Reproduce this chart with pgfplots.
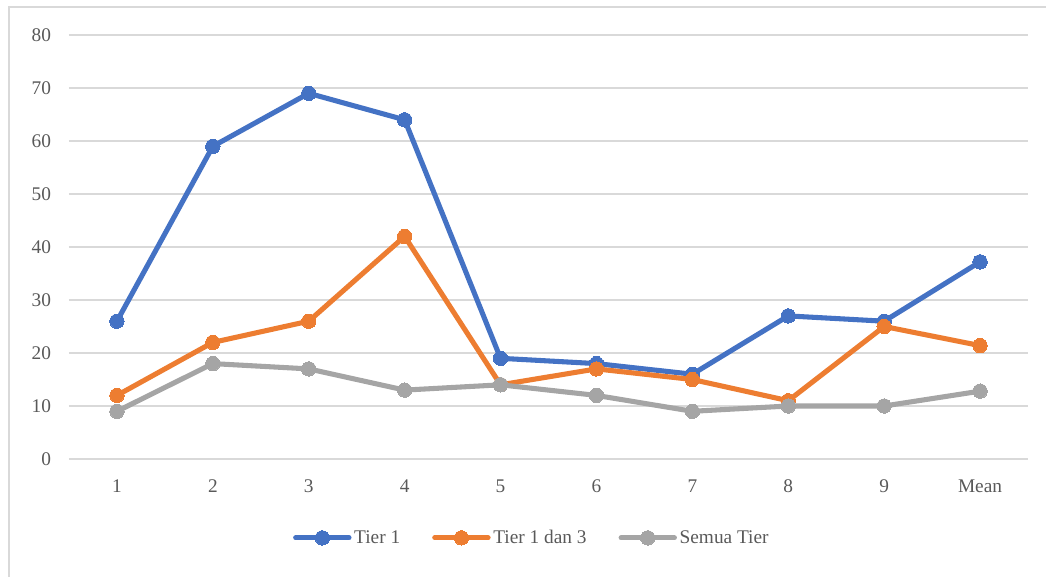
\documentclass[border=0pt]{standalone}
\usepackage{pgfplots}
\pgfplotsset{compat=1.18}
\usepackage{fontspec}
\setmainfont{Liberation Serif}
\definecolor{cblue}{HTML}{4472C4}
\definecolor{corange}{HTML}{ED7D31}
\definecolor{cgray}{HTML}{A5A5A5}
\definecolor{cgrid}{HTML}{D9D9D9}
\definecolor{ctext}{HTML}{595959}
\begin{document}
\begin{tikzpicture}
\begin{axis}[
  name=ax,
  scale only axis,
  width=719.25pt, height=318pt,
  xmin=-0.5, xmax=9.5, ymin=0, ymax=80,
  xtick={0,...,9},
  xticklabels={1,2,3,4,5,6,7,8,9,Mean},
  ytick={0,10,...,80},
  ymajorgrids,
  grid style={cgrid, line width=1.2pt},
  axis line style={draw=none},
  major tick length=0pt,
  tick label style={font=\fontsize{14.5}{16}\selectfont, text=ctext},
  /pgf/number format/assume math mode=true,
  yticklabel style={anchor=east, xshift=-10pt},
  xticklabel style={yshift=-12pt},
  clip=false,
  legend style={at={(0.483,-0.186)}, anchor=center, draw=none, fill=none,
    legend columns=-1, font=\fontsize{14.5}{16}\selectfont, text=ctext,
    /tikz/every even column/.append style={column sep=22pt},
    inner sep=0pt},
  legend image code/.code={
    \draw[#1, line cap=round, mark=none] (0pt,0pt) -- (40pt,0pt);
    \draw[#1, only marks] plot coordinates {(20pt,0pt)};
  },
  every axis plot/.append style={line width=3.8pt, mark=*, line join=round},
]
\addplot[cblue, mark options={fill=cblue, draw=cblue, line width=0pt, mark size=5.4pt}] coordinates {
(0,26) (1,59) (2,69) (3,64) (4,19) (5,18) (6,16) (7,27) (8,26) (9,37.2)};
\addlegendentry{Tier 1}
\addplot[corange, mark options={fill=corange, draw=corange, line width=0pt, mark size=5.4pt}] coordinates {
(0,12) (1,22) (2,26) (3,42) (4,14) (5,17) (6,15) (7,11) (8,25) (9,21.4)};
\addlegendentry{Tier 1 dan 3}
\addplot[cgray, mark options={fill=cgray, draw=cgray, line width=0pt, mark size=5.4pt}] coordinates {
(0,9) (1,18) (2,17) (3,13) (4,14) (5,12) (6,9) (7,10) (8,10) (9,12.8)};
\addlegendentry{Semua Tier}
\end{axis}
\pgfresetboundingbox
\begin{scope}[shift={(ax.south west)}, x=0.75pt, y=0.75pt]
\useasboundingbox (-69,-117) rectangle (977,459);
\draw[cgrid, line width=1.5pt] (-60,-140) -- (-60,452) -- (1000,452);
\end{scope}
\end{tikzpicture}
\end{document}
